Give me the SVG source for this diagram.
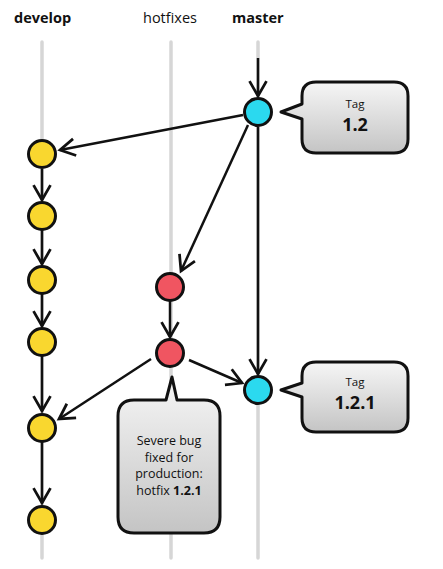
<svg xmlns="http://www.w3.org/2000/svg" width="443" height="569" viewBox="0 0 443 569">
<style>
.hdr{font-family:"Open Sans","Liberation Sans",sans-serif;font-size:14.5px;fill:#111}
.b{font-weight:bold}
.lane{stroke:#d6d6d6;stroke-width:3.5;fill:none;stroke-linecap:round}
.edge{stroke:#111;stroke-width:2.5;fill:none;marker-end:url(#arr)}
.node{stroke:#111;stroke-width:3}
.dev{fill:#f9d72f}
.hot{fill:#f05561}
.mas{fill:#2bd9ef}
.call{fill:url(#g);stroke:#111;stroke-width:3;stroke-linejoin:round}
.ct{font-family:"Open Sans","Liberation Sans",sans-serif;fill:#111;text-anchor:middle}
</style>
<defs>
<linearGradient id="g" x1="0" y1="0" x2="0" y2="1">
<stop offset="0" stop-color="#f6f6f6"/>
<stop offset="1" stop-color="#c4c4c4"/>
</linearGradient>
<marker id="arr" viewBox="0 0 20 20" refX="17" refY="10" markerWidth="8.5" markerHeight="8.5" markerUnits="strokeWidth" orient="auto">
<path d="M3,2 L17,10 L3,18" fill="none" stroke="#111" stroke-width="2.6" stroke-linejoin="miter"/>
</marker>
</defs>
<g id="headers">
<text class="hdr b" x="14" y="23">develop</text>
<text class="hdr" x="143" y="23">hotfixes</text>
<text class="hdr b" x="232" y="23">master</text>
</g>
<g id="lanes">
<line class="lane" x1="42" y1="42" x2="42" y2="558"/>
<line class="lane" x1="171" y1="42" x2="171" y2="558"/>
<line class="lane" x1="258" y1="42" x2="258" y2="558"/>
</g>
<g id="connectors">
<line class="edge" x1="258" y1="58" x2="258" y2="96"/>
<line class="edge" x1="243" y1="115" x2="60" y2="150"/>
<line class="edge" x1="248" y1="125" x2="181" y2="271"/>
<line class="edge" x1="258" y1="127" x2="258" y2="374"/>
<line class="edge" x1="42" y1="169" x2="42" y2="200"/>
<line class="edge" x1="42" y1="230" x2="42" y2="264"/>
<line class="edge" x1="42" y1="294" x2="42" y2="326"/>
<line class="edge" x1="42" y1="356" x2="42" y2="411"/>
<line class="edge" x1="42" y1="442" x2="42" y2="503"/>
<line class="edge" x1="170" y1="301" x2="170" y2="337"/>
<line class="edge" x1="151" y1="359" x2="59" y2="419"/>
<line class="edge" x1="189" y1="360" x2="242" y2="383"/>
</g>
<g id="develop-nodes">
<circle id="d1" class="node dev" cx="42" cy="154" r="13.5"/>
<circle id="d2" class="node dev" cx="42" cy="216" r="13.5"/>
<circle id="d3" class="node dev" cx="42" cy="280" r="13.5"/>
<circle id="d4" class="node dev" cx="42" cy="342" r="13.5"/>
<circle id="d5" class="node dev" cx="42" cy="428" r="13.5"/>
<circle id="d6" class="node dev" cx="42" cy="520" r="13.5"/>
</g>
<g id="hotfix-nodes">
<circle id="h1" class="node hot" cx="170" cy="287" r="13.5"/>
<circle id="h2" class="node hot" cx="170" cy="353" r="13.5"/>
</g>
<g id="master-nodes">
<circle id="m1" class="node mas" cx="258" cy="112" r="13.5"/>
<circle id="m2" class="node mas" cx="258" cy="390" r="13.5"/>
</g>
<g id="tag-1-2">
<path class="call" d="M316,82 H394 Q408,82 408,96 V139 Q408,153 394,153 H316 Q302,153 302,139 V119 L281,112 L302,104 V96 Q302,82 316,82 Z"/>
<text class="ct" x="355" y="108" font-size="11.5">Tag</text>
<text class="ct" x="355" y="131" font-size="18" font-weight="bold">1.2</text>
</g>
<g id="tag-1-2-1">
<path class="call" d="M316,362 H394 Q408,362 408,376 V418 Q408,432 394,432 H316 Q302,432 302,418 V397 L281,390 L302,383 V376 Q302,362 316,362 Z"/>
<text class="ct" x="355" y="386" font-size="11.5">Tag</text>
<text class="ct" x="355" y="409" font-size="18" font-weight="bold">1.2.1</text>
</g>
<g id="note-hotfix">
<path class="call" d="M134,400 H166 L172,377 L177,400 H204 Q220,400 220,416 V517 Q220,533 204,533 H134 Q118,533 118,517 V416 Q118,400 134,400 Z"/>
<text class="ct" font-size="12.5"><tspan x="169" y="445">Severe bug</tspan><tspan x="169" y="462">fixed for</tspan><tspan x="169" y="478">production:</tspan><tspan x="169" y="495">hotfix <tspan font-weight="bold">1.2.1</tspan></tspan></text>
</g>
</svg>
